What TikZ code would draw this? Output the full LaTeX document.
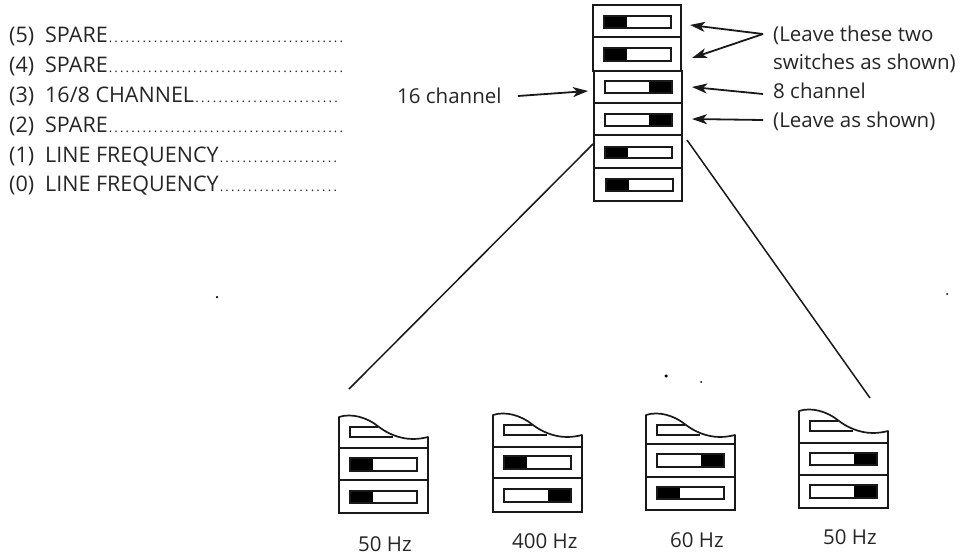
\documentclass[tikz,border=0pt]{standalone}
\usepackage{fontspec}
\setmainfont{Open Sans}
\usetikzlibrary{arrows.meta}
\tikzset{
  ink/.style={line width=1.7pt,draw=black!90},
  row/.style={ink,rectangle,anchor=north west,inner sep=0pt,outer sep=0pt},
  lab/.style={anchor=base west,inner sep=0pt,font=\fontsize{20.5}{24}\selectfont,text=black!85},
  listlab/.style={lab,font=\fontsize{21.5}{24}\selectfont},
  leadr/.style={line width=1.8pt,black!90,-{Stealth[length=15pt,width=10pt,inset=4pt]}},
  fan/.style={line width=1.5pt,black!90},
  speck/.style={circle,fill=black,inner sep=0pt}
}
\newcommand\dotrun{\xleaders\hbox to 5.6pt{\hss\fontsize{13}{13}\selectfont.\hss}\hfill}
\newcommand\listline[3]{\makebox[#1pt][l]{\makebox[36pt][l]{#2}#3\dotrun}}
% row box: name, x, y, w, h
\newcommand\rowbox[5]{\node[row,minimum width=#4pt,minimum height=#5pt] (#1) at (#2,#3) {};}
% switch: x, y, h, black on L or R
\newcommand\swL[3]{\fill[black] (#1,#2) rectangle (#1+23,#2+#3);\draw[ink] (#1,#2) rectangle (#1+67,#2+#3);}
\newcommand\swR[3]{\fill[black] (#1+44,#2) rectangle (#1+67,#2+#3);\draw[ink] (#1,#2) rectangle (#1+67,#2+#3);}
% small stack top: name,x,y,d1,d2,bottom
\newcommand\smallstack[6]{
  \begin{scope}[shift={(#2,#3)}]
    \draw[ink,line join=round] (0,#4) -- (0,2) .. controls (12,-2) and (28,2) .. (40,12)
      .. controls (48,18) and (60,24) .. (74,24) .. controls (80,24) and (85,23) .. (89,22) -- (89,#4) -- cycle;
    \draw[ink] (39,12) -- (11,12) -- (11,22) -- (54,22);
    \node[row,minimum width=89pt,minimum height=#5pt-#4pt] (#1a) at (0,#4) {};
    \node[row,minimum width=89pt,minimum height=#6pt-#5pt] (#1b) at (0,#5) {};
  \end{scope}
}
\begin{document}
\begin{tikzpicture}[x=1pt,y=-1pt]
\useasboundingbox (0,0) rectangle (964,557);
% left list
\node[listlab] (l5) at (9,42) {\listline{335}{(5)}{SPARE}};
\node[listlab] (l4) at (9,72) {\listline{335}{(4)}{SPARE}};
\node[listlab] (l3) at (9,102) {\listline{330}{(3)}{16/8 CHANNEL}};
\node[listlab] (l2) at (9,132) {\listline{335}{(2)}{SPARE}};
\node[listlab] (l1) at (9,162) {\listline{329}{(1)}{LINE FREQUENCY}};
\node[listlab] (l0) at (9,191) {\listline{329}{(0)}{LINE FREQUENCY}};
% main stack
\rowbox{m5}{593}{5}{88}{32}
\rowbox{m4}{593}{37}{88}{34}
\rowbox{m3}{594}{71}{88}{32}
\rowbox{m2}{594}{103}{88}{32}
\rowbox{m1}{594}{135}{88}{33}
\rowbox{m0}{594}{168}{88}{33}
\swL{604}{16}{12}
\swL{604}{48}{13}
\swR{605}{81}{12}
\swR{605}{114}{12}
\swL{605}{147}{11}
\swL{606}{179}{12}
% annotations
\node[lab] (tA) at (773,41) {(Leave these two};
\node[lab] (tB) at (773,69) {switches as shown)};
\node[lab] (tC) at (773,98) {8 channel};
\node[lab] (tD) at (773,127) {(Leave as shown)};
\node[lab] (tE) at (397,103) {16 channel};
\coordinate (j) at (763,34);
\coordinate (a5) at (690,25);
\coordinate (a4) at (692,58);
\coordinate (a3) at (692,87);
\coordinate (a2) at (692,119);
\coordinate (c0) at (763,94);
\coordinate (d0) at (763,120);
\coordinate (e0) at (518,96);
\coordinate (e1) at (588,91);
\draw[leadr] (j) -- (a5);
\draw[leadr] (j) -- (a4);
\draw[leadr] (c0) -- (a3);
\draw[leadr] (d0) -- (a2);
\draw[leadr] (e0) -- (e1);
% fan lines
\coordinate (fl0) at (593,144);
\coordinate (fl1) at (349,389);
\coordinate (fr0) at (687,140);
\coordinate (fr1) at (870,398);
\draw[fan] (fl0) -- (fl1);
\draw[fan] (fr0) -- (fr1);
% small stacks
\smallstack{s}{339}{415}{33}{65}{98}
\swL{350}{458}{13}
\swL{350}{491}{12}
\smallstack{t}{493}{413}{34}{65}{99}
\swL{504}{456}{13}
\swR{504}{489}{13}
\smallstack{u}{646}{413}{31}{64}{97}
\swR{657}{454}{13}
\swL{657}{487}{12}
\smallstack{v}{799}{409}{34}{66}{99}
\swR{810}{453}{12}
\swR{810}{485}{13}
% Hz labels
\node[lab] (h1) at (358,551) {50 Hz};
\node[lab] (h2) at (512,548) {400 Hz};
\node[lab] (h3) at (670,547) {60 Hz};
\node[lab] (h4) at (823,544) {50 Hz};
% specks of the print
\node[speck,minimum size=2.5pt] (p1) at (217,297) {};
\node[speck,minimum size=3.5pt] (p2) at (666,376) {};
\node[speck,minimum size=2pt] (p3) at (701,382) {};
\node[speck,minimum size=2pt] (p4) at (947,294) {};
\end{tikzpicture}
\end{document}
